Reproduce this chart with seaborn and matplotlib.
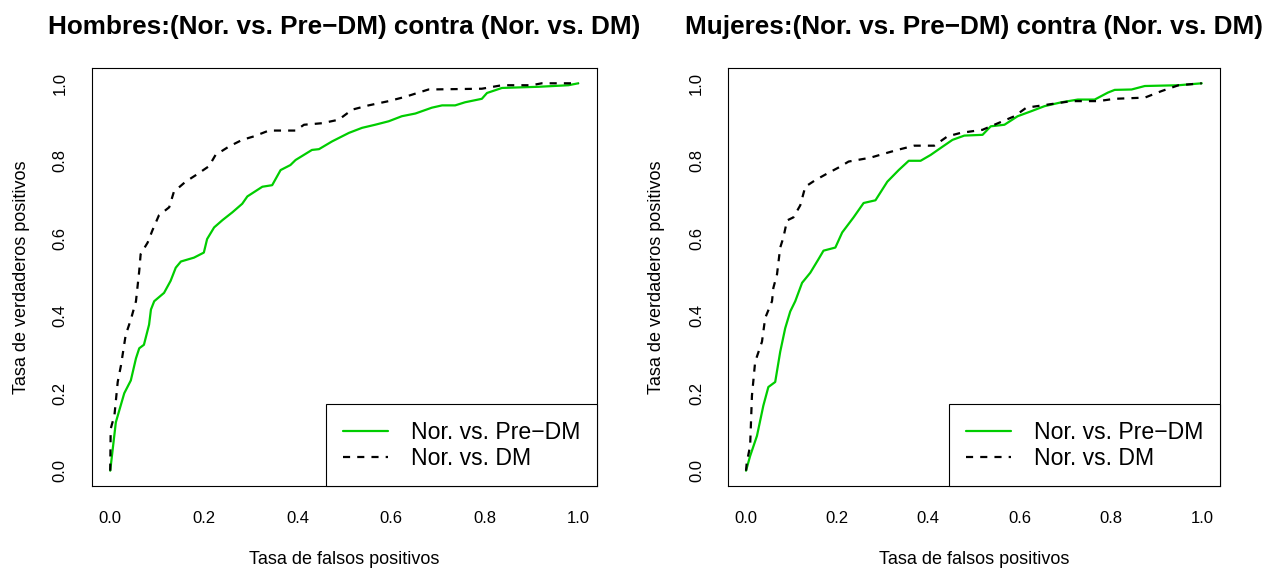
import matplotlib
matplotlib.use("Agg")
import matplotlib.pyplot as plt
import seaborn as sns
import pandas as pd

# ---------------- data ----------------
titles = ["Hombres:(Nor. vs. Pre\u2212DM) contra (Nor. vs. DM)",
          "Mujeres:(Nor. vs. Pre\u2212DM) contra (Nor. vs. DM)"]
series_labels = ["Nor. vs. Pre\u2212DM", "Nor. vs. DM"]
x_label = "Tasa de falsos positivos"
y_label = "Tasa de verdaderos positivos"
tick_vals = [0.0, 0.2, 0.4, 0.6, 0.8, 1.0]
tick_labels = ["0.0", "0.2", "0.4", "0.6", "0.8", "1.0"]

# Hombres - Nor. vs. Pre-DM
h_pre_fpr = [0, 0.012, 0.03, 0.044, 0.055, 0.062, 0.072, 0.083, 0.087, 0.094, 0.115, 0.129,
             0.14, 0.151, 0.179, 0.20, 0.207, 0.222, 0.24, 0.261, 0.282, 0.293, 0.325, 0.346,
             0.364, 0.385, 0.396, 0.431, 0.446, 0.474, 0.51, 0.538, 0.566, 0.595, 0.623, 0.652,
             0.687, 0.709, 0.737, 0.758, 0.794, 0.805, 0.837, 0.915, 0.979, 1.0]
h_pre_tpr = [0, 0.125, 0.20, 0.233, 0.29, 0.316, 0.325, 0.377, 0.416, 0.4375, 0.459, 0.49,
             0.524, 0.54, 0.55, 0.563, 0.598, 0.628, 0.647, 0.667, 0.689, 0.708, 0.733, 0.737,
             0.776, 0.789, 0.802, 0.828, 0.830, 0.85, 0.872, 0.885, 0.893, 0.902, 0.915, 0.922,
             0.937, 0.943, 0.943, 0.951, 0.960, 0.975, 0.988, 0.991, 0.995, 1.0]
# Hombres - Nor. vs. DM
h_dm_fpr = [0, 0.001, 0.009, 0.016, 0.023, 0.033, 0.044, 0.055, 0.062, 0.065, 0.080, 0.09,
            0.104, 0.126, 0.136, 0.161, 0.183, 0.211, 0.225, 0.254, 0.282, 0.307, 0.339, 0.396,
            0.414, 0.453, 0.488, 0.517, 0.552, 0.595, 0.630, 0.680, 0.794, 0.837, 0.90, 0.922, 1.0]
h_dm_tpr = [0, 0.108, 0.143, 0.229, 0.272, 0.35, 0.39, 0.4375, 0.516, 0.559, 0.589, 0.62,
            0.659, 0.68, 0.72, 0.746, 0.763, 0.786, 0.815, 0.837, 0.854, 0.863, 0.878, 0.878,
            0.893, 0.897, 0.906, 0.932, 0.943, 0.954, 0.965, 0.984, 0.986, 0.995, 0.995, 1.0, 1.0]
# Mujeres - Nor. vs. Pre-DM
m_pre_fpr = [0, 0.009, 0.024, 0.038, 0.049, 0.064, 0.075, 0.086, 0.097, 0.108, 0.123, 0.141,
             0.159, 0.170, 0.196, 0.211, 0.236, 0.258, 0.284, 0.310, 0.335, 0.357, 0.383, 0.405,
             0.427, 0.453, 0.479, 0.519, 0.537, 0.567, 0.596, 0.626, 0.655, 0.692, 0.728, 0.765,
             0.794, 0.809, 0.846, 0.875, 0.949, 1.0]
m_pre_tpr = [0, 0.038, 0.09, 0.168, 0.216, 0.229, 0.307, 0.368, 0.411, 0.4375, 0.485, 0.511,
             0.546, 0.568, 0.576, 0.615, 0.654, 0.691, 0.698, 0.746, 0.776, 0.800, 0.800, 0.815,
             0.833, 0.854, 0.865, 0.867, 0.889, 0.893, 0.915, 0.928, 0.941, 0.951, 0.958, 0.958,
             0.976, 0.983, 0.984, 0.993, 0.995, 1.0]
# Mujeres - Nor. vs. DM
m_dm_fpr = [0, 0.0015, 0.009, 0.013, 0.02, 0.035, 0.042, 0.057, 0.06, 0.068, 0.075, 0.082,
            0.090, 0.104, 0.119, 0.130, 0.152, 0.178, 0.207, 0.225, 0.273, 0.302, 0.332, 0.369,
            0.413, 0.442, 0.471, 0.519, 0.545, 0.589, 0.615, 0.662, 0.714, 0.773, 0.809, 0.875,
            0.912, 0.949, 1.0]
m_dm_tpr = [0, 0.02, 0.064, 0.194, 0.281, 0.333, 0.394, 0.4375, 0.472, 0.507, 0.576, 0.602,
            0.646, 0.654, 0.685, 0.733, 0.75, 0.767, 0.785, 0.798, 0.808, 0.818, 0.828, 0.839,
            0.839, 0.863, 0.872, 0.88, 0.893, 0.915, 0.937, 0.945, 0.954, 0.954, 0.960, 0.963,
            0.980, 0.995, 1.0]

panels = [
    (titles[0], (h_pre_fpr, h_pre_tpr), (h_dm_fpr, h_dm_tpr)),
    (titles[1], (m_pre_fpr, m_pre_tpr), (m_dm_fpr, m_dm_tpr)),
]

# ---------------- style ----------------
sns.set_theme(style="white")
plt.rcParams["font.family"] = ["Liberation Sans", "DejaVu Sans"]
plt.rcParams["axes.edgecolor"] = "black"
plt.rcParams["axes.linewidth"] = 0.8
plt.rcParams["text.color"] = "black"
plt.rcParams["axes.labelcolor"] = "black"
plt.rcParams["xtick.color"] = "black"
plt.rcParams["ytick.color"] = "black"

GREEN = "#00CD00"
fig = plt.figure(figsize=(12.68, 5.69), dpi=100)
axes_rects = [
    [91.5 / 1268, 1 - 486.2 / 569, (597 - 91.5) / 1268, (486.2 - 67.8) / 569],
    [727.8 / 1268, 1 - 486.2 / 569, (1220 - 727.8) / 1268, (486.2 - 67.8) / 569],
]
ylabel_x = [-0.1375, -0.144]

for i, (title, pre, dm) in enumerate(panels):
    ax = fig.add_axes(axes_rects[i])
    df_pre = pd.DataFrame({"fpr": pre[0], "tpr": pre[1]})
    df_dm = pd.DataFrame({"fpr": dm[0], "tpr": dm[1]})
    sns.lineplot(data=df_pre, x="fpr", y="tpr", ax=ax, color=GREEN, lw=1.6,
                 sort=False, estimator=None, label=series_labels[0])
    sns.lineplot(data=df_dm, x="fpr", y="tpr", ax=ax, color="black", lw=1.6,
                 sort=False, estimator=None, label=series_labels[1],
                 dashes=False, linestyle=(0, (3.2, 3.2)))
    ax.set_xlim(-0.04, 1.04)
    ax.set_ylim(-0.04, 1.04)
    ax.set_xticks(tick_vals)
    ax.set_xticklabels(tick_labels)
    ax.set_yticks(tick_vals)
    ax.set_yticklabels(tick_labels, rotation=90, va="center")
    ax.tick_params(axis="both", direction="out", length=7.7, width=0.8,
                   color="black", labelsize=12, labelcolor="black")
    ax.tick_params(axis="x", pad=10.5)
    ax.tick_params(axis="y", pad=9.5)
    for s in ax.spines.values():
        s.set_visible(True)
        s.set_color("black")
        s.set_linewidth(0.8)
    ax.set_title(title, fontsize=18.8, fontweight="bold", pad=24, color="black")
    ax.set_xlabel(x_label, fontsize=13, va="center", color="black")
    ax.xaxis.set_label_coords(0.5, -(560 - 486.2) / 418.4)
    ax.set_ylabel(y_label, fontsize=13, va="center", color="black")
    ax.yaxis.set_label_coords(ylabel_x[i], 0.5)
    leg = ax.legend(loc="lower right", bbox_to_anchor=(1, 0), borderaxespad=0,
                    fontsize=16.6, frameon=True, fancybox=False, framealpha=1,
                    edgecolor="black", handlelength=1.95, handletextpad=1.0,
                    borderpad=0.72, labelspacing=0.12)
    leg.get_frame().set_linewidth(0.8)
    for t in leg.get_texts():
        t.set_color("black")

fig.savefig("out.png", dpi=100)
